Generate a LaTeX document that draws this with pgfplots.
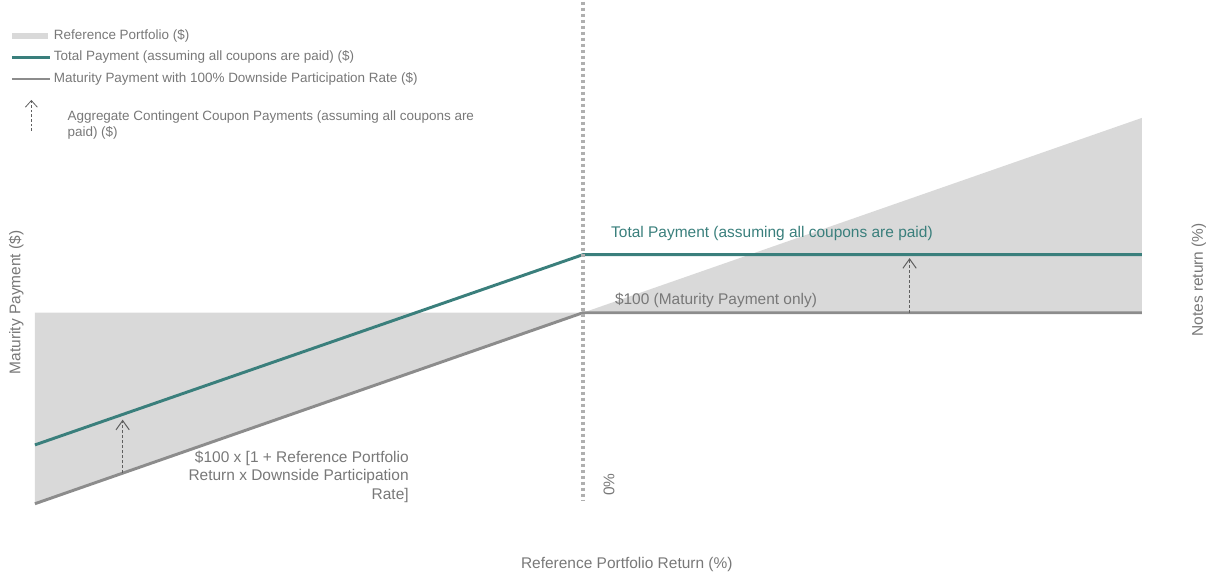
\documentclass[border=0pt]{standalone}
\usepackage{fontspec}
\setmainfont{Liberation Sans}
\usepackage{pgfplots}
\pgfplotsset{compat=1.18}
\usetikzlibrary{arrows.meta}
\definecolor{refgray}{RGB}{217,217,217}
\definecolor{tealc}{RGB}{58,127,124}
\definecolor{linegray}{RGB}{140,140,140}
\definecolor{dotgray}{RGB}{175,175,175}
\definecolor{txtgray}{RGB}{120,120,120}
\definecolor{arrowgray}{RGB}{95,95,95}
\begin{document}
\begin{tikzpicture}
\begin{axis}[
  scale only axis, width=906pt, height=429.75pt,
  xmin=-0.5319, xmax=0.5703, ymin=31.41, ymax=181.41,
  axis lines=none, clip=false,
  legend style={at={(rel axis cs:0.0083,0.958)}, anchor=north west, draw=none, fill=none,
    inner sep=0pt, font=\fontsize{10.1}{12}\selectfont, text=txtgray, row sep=1.1pt,
    nodes={text height=8pt, text depth=3pt, inner sep=2pt}},
  legend cell align=left,
]
\path (rel axis cs:0,0) rectangle (rel axis cs:1,1);
% reference portfolio area
\addplot[fill=refgray, draw=none,
  legend image code/.code={\fill[refgray] (0pt,-2.5pt) rectangle (27pt,2.5pt);}]
  coordinates {(-0.5,100) (-0.5,50) (0,100) (0.51,151) (0.51,100)} -- cycle;
\addlegendentry{Reference Portfolio (\$)}
% total payment
\addplot[tealc, line width=2.2pt,
  legend image code/.code={\draw[tealc, line width=2.2pt] (0pt,0pt) -- (28.5pt,0pt);}]
  coordinates {(-0.5,65.4) (0,115.2) (0.51,115.2)};
\addlegendentry{Total Payment (assuming all coupons are paid) (\$)}
% maturity payment
\addplot[linegray, line width=2.2pt,
  legend image code/.code={\draw[linegray, line width=2.2pt] (0pt,0pt) -- (28.5pt,0pt);}]
  coordinates {(-0.5,50) (0,100) (0.51,100)};
\addlegendentry{Maturity Payment with 100\% Downside Participation Rate (\$)}
\addlegendimage{empty legend}
\addlegendentry{}
\addlegendimage{legend image code/.code={\draw[overlay, arrowgray, line width=0.6pt, dash pattern=on 2pt off 1.5pt, -{Straight Barb[length=5pt,width=9pt]}] (14.7pt,-6.75pt) -- (14.7pt,16.5pt);}}
\addlegendentry{\hspace{10.25pt}\raisebox{-2.5pt}[0pt][0pt]{\parbox[c]{330pt}{Aggregate Contingent Coupon Payments (assuming all coupons are\newline paid) (\$)}}}
% coupon arrows
\addplot[arrowgray, line width=0.75pt, dash pattern=on 2.25pt off 1.5pt, -{Straight Barb[length=7pt,width=10pt]}, forget plot]
  coordinates {(-0.42,58) (-0.42,72)};
\addplot[arrowgray, line width=0.75pt, dash pattern=on 2.25pt off 1.5pt, -{Straight Barb[length=7pt,width=10pt]}, forget plot]
  coordinates {(0.298,100) (0.298,114.3)};
% zero line
\addplot[draw=dotgray, line width=2.6pt, line cap=butt, dash pattern=on 2.8pt off 1.7pt, forget plot]
  coordinates {(0,181.41) (0,51)};
% annotations
\node[text=tealc, anchor=west, inner sep=0pt, font=\fontsize{11.6}{14}\selectfont] at (axis cs:0.0255,120.7) {Total Payment (assuming all coupons are paid)};
\node[text=txtgray, anchor=west, inner sep=0pt, font=\fontsize{11.6}{14}\selectfont] at (axis cs:0.029,103.1) {\$100 (Maturity Payment only)};
\node[text=txtgray, anchor=east, align=right, inner sep=0pt, font=\fontsize{11.6}{13.9}\selectfont] at (axis cs:-0.1588,57.07) {\$100 x [1 + Reference Portfolio\\Return x Downside Participation\\Rate]};
\node[text=txtgray, rotate=90, inner sep=0pt, font=\fontsize{11.6}{14}\selectfont] at (axis cs:0.0237,55.0) {0\%};
\node[text=txtgray, rotate=90, inner sep=0pt, font=\fontsize{11.6}{14}\selectfont] at (axis cs:-0.517,102.7) {Maturity Payment (\$)};
\node[text=txtgray, rotate=90, inner sep=0pt, font=\fontsize{11.6}{14}\selectfont] at (axis cs:0.562,108.6) {Notes return (\%)};
\node[text=txtgray, inner sep=0pt, font=\fontsize{11.6}{14}\selectfont] at (axis cs:0.04,34.0) {Reference Portfolio Return (\%)};
\end{axis}
\end{tikzpicture}
\end{document}
